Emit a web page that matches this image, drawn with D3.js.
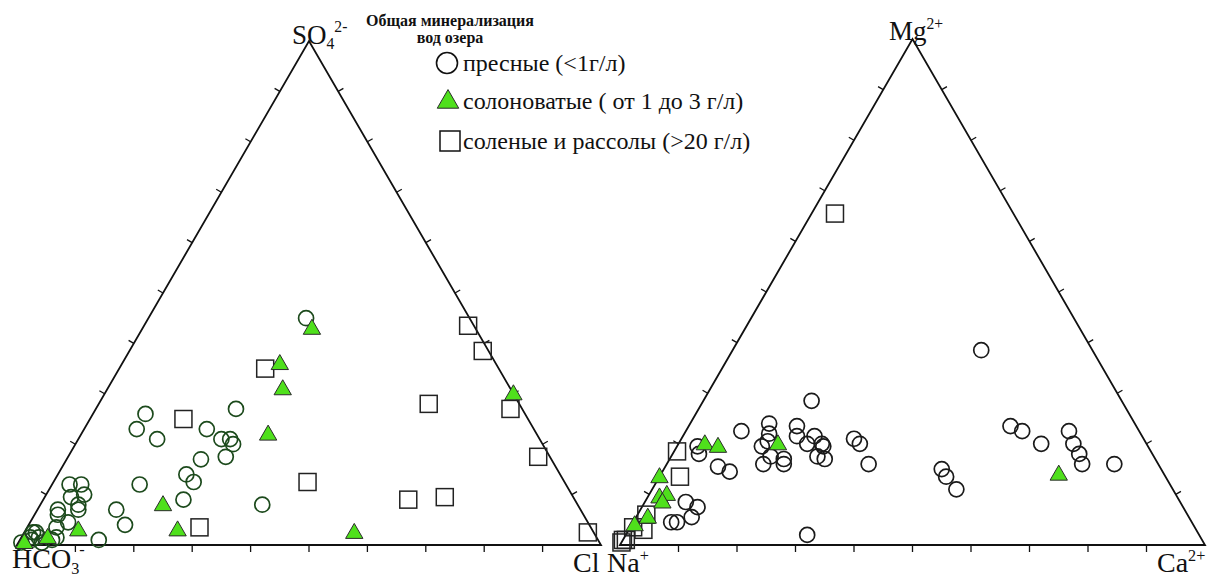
<!DOCTYPE html>
<html>
<head>
<meta charset="utf-8">
<script src="https://cdn.jsdelivr.net/npm/d3@7"></script>
<style>
  body { margin: 0; background: #fff; }
  text { font-family: "Liberation Serif", "DejaVu Serif", serif; fill: #111; }
</style>
</head>
<body>
<script>
//Variables
    const width = 1207;
    const height = 578;

//Data : anions [SO4 %, Cl %] (HCO3 = remainder)
    const anionFresh = [
        [45, 27], [26, 9], [23, 9], [21, 13.5], [27, 24], [23, 21], [21, 24.5], [21, 26],
        [20, 27], [17.5, 27], [17, 23], [14, 22], [12.5, 24], [12, 15], [9, 24], [7, 13.5],
        [4, 16.5], [1, 13.5], [8, 38], [12, 3], [12, 5], [9.5, 4.5], [10, 6.5], [8, 6.5],
        [7, 7], [7, 3.5], [6, 4], [4.5, 6.5], [3.5, 5], [1.5, 6], [1, 5.5], [2.5, 1.5],
        [2.5, 2], [1.5, 1.5], [1, 2], [0.5, 0.5], [1.5, 3], [0.5, 4]
    ];
    const anionBrackish = [
        [43, 29], [36, 27], [31, 30], [22, 32], [8, 21], [3, 26], [3, 9], [1.5, 4.5],
        [0.5, 1], [2.5, 56.5], [30, 70]
    ];
    const anionSaline = [
        [25, 16], [3.5, 29.5], [35, 25], [12.5, 43.5], [9, 62.5], [9.5, 68.5], [28, 56.5],
        [43.5, 55.5], [38.5, 60.5], [27, 71], [17.5, 80.5], [2.5, 96.5]
    ];

//Data : cations [Mg %, Ca %] (Na = remainder)
    const cationFresh = [
        [38.5, 42.5], [28.5, 18.5], [22.5, 9.5], [24, 13.5], [22, 14.5], [19.5, 14.5], [20.5, 15],
        [17.5, 17], [16, 16.5], [17, 19.5], [16, 20], [23.5, 18.5], [21.5, 19.5], [20, 22],
        [21.5, 22.5], [20, 24.5], [19.5, 25], [17.5, 25], [17, 26.5], [21, 29.5], [20, 31],
        [16, 34.5], [19.5, 3.5], [18, 4.5], [15.5, 9], [14.5, 11.5], [8.5, 7], [7.5, 9.5],
        [5.5, 9.5], [4.5, 6.5], [4.5, 7.5], [2, 31], [23.5, 55], [22.5, 57.5], [20, 62],
        [22.5, 65.5], [20, 67.5], [18, 69.5], [16, 71], [16, 76.5], [15, 47.5], [13.5, 49], [11, 52]
    ];
    const cationBrackish = [
        [20, 4.5], [19.5, 7], [20, 17], [13.5, 0], [9.5, 2], [10, 3], [8.5, 3], [5.5, 2],
        [4, 0.5], [14, 68]
    ];
    const cationSaline = [
        [65.5, 4], [18.5, 0.5], [13.5, 3.5], [6, 1.5], [3, 2.5], [3.5, 0.5], [1, 0], [1, 0.5], [0.5, 0]
    ];

    const legendTitle = ["Общая минерализация", "вод озера"];
    const legendLabels = ["пресные (<1г/л)", "солоноватые ( от 1 до 3 г/л)", "соленые и рассолы (>20 г/л)"];
    const ticks = d3.range(10, 100, 10);

//Svg creation
    const svg = d3.select("body")
                    .append("svg")
                    .attr("width", width)
                    .attr("height", height)
                    .style("background-color", "white");

    const green = "#4fe01c";

//Draw one ternary diagram
    function ternary(xr, yr, fresh, brackish, saline, freshColor) {
        const x = d3.scaleLinear().domain([0, 100]).range(xr);
        const y = d3.scaleLinear().domain([0, 100]).range(yr);
        // p = [top %, right %]
        const px = p => x(p[1] + p[0] / 2);
        const py = p => y(p[0]);

        const g = svg.append("g");
        g.append("path")
            .attr("d", `M${px([0, 0])},${py([0, 0])}L${px([100, 0])},${py([100, 0])}L${px([0, 100])},${py([0, 100])}Z`)
            .attr("fill", "none")
            .attr("stroke", "#111")
            .attr("stroke-width", 1.8);

        // base ticks
        g.selectAll(".tb").data(ticks).join("line")
            .attr("x1", d => px([0, d])).attr("x2", d => px([0, d]))
            .attr("y1", py([0, 0])).attr("y2", py([0, 0]) + 7)
            .attr("stroke", "#111").attr("stroke-width", 1.3);
        // left side ticks
        g.selectAll(".tl").data(ticks).join("line")
            .attr("x1", d => px([d, 0])).attr("y1", d => py([d, 0]))
            .attr("x2", d => px([d, 0]) - 6 * Math.cos(Math.PI / 6))
            .attr("y2", d => py([d, 0]) - 6 * Math.sin(Math.PI / 6))
            .attr("stroke", "#111").attr("stroke-width", 1.3);
        // right side ticks
        g.selectAll(".tr").data(ticks).join("line")
            .attr("x1", d => px([d, 100 - d])).attr("y1", d => py([d, 100 - d]))
            .attr("x2", d => px([d, 100 - d]) + 6 * Math.cos(Math.PI / 6))
            .attr("y2", d => py([d, 100 - d]) - 6 * Math.sin(Math.PI / 6))
            .attr("stroke", "#111").attr("stroke-width", 1.3);

        g.selectAll("circle").data(fresh).join("circle")
            .attr("cx", px).attr("cy", py).attr("r", 7.5)
            .attr("fill", "none").attr("stroke", freshColor).attr("stroke-width", 1.7);

        g.selectAll(".sq").data(saline).join("rect")
            .attr("x", d => px(d) - 8.5).attr("y", d => py(d) - 8.5)
            .attr("width", 17).attr("height", 17)
            .attr("fill", "none").attr("stroke", "#222").attr("stroke-width", 1.5);

        g.selectAll(".tri").data(brackish).join("path")
            .attr("d", d3.symbol().type(d3.symbolTriangle).size(130))
            .attr("transform", d => `translate(${px(d)},${py(d) + 1})`)
            .attr("fill", green).attr("stroke", "#2b2b2b").attr("stroke-width", 1);
    }

    ternary([17, 601], [545, 41], anionFresh, anionBrackish, anionSaline, "#1c4a1c");
    ternary([620, 1205], [545, 39], cationFresh, cationBrackish, cationSaline, "#1a1a1a");

//Vertex labels
    function label(x, y, base, sub, sup, size) {
        const t = svg.append("text").attr("x", x).attr("y", y).style("font-size", size + "px");
        t.append("tspan").text(base);
        if (sub) t.append("tspan").attr("dy", size * 0.2).style("font-size", (size * 0.58) + "px").text(sub);
        if (sup) t.append("tspan").attr("dy", sub ? -size * 0.66 : -size * 0.4).style("font-size", (size * 0.58) + "px").text(sup);
    }
    label(292, 44, "SO", "4", "2-", 27);
    label(12, 568, "HCO", "3", "-", 28);
    label(573, 572, "Cl", null, null, 28);
    label(607, 572, "Na", null, "+", 28);
    label(889, 40, "Mg", null, "2+", 27);
    label(1157, 572, "Ca", null, "2+", 28);

//Legend
    svg.selectAll(".ltitle").data(legendTitle).join("text")
        .attr("x", 450).attr("y", (d, i) => 26 + i * 17).attr("text-anchor", "middle")
        .style("font-size", "16px").style("font-weight", "bold").text(d => d);

    const legendY = [63, 101, 141];
    svg.append("circle").attr("cx", 447).attr("cy", legendY[0]).attr("r", 10.5)
        .attr("fill", "none").attr("stroke", "#111").attr("stroke-width", 1.6);
    svg.append("path")
        .attr("d", d3.symbol().type(d3.symbolTriangle).size(200))
        .attr("transform", `translate(448,${legendY[1] + 1})`)
        .attr("fill", green).attr("stroke", "#2b2b2b").attr("stroke-width", 1);
    svg.append("rect").attr("x", 440).attr("y", legendY[2] - 10).attr("width", 20).attr("height", 20)
        .attr("fill", "none").attr("stroke", "#111").attr("stroke-width", 1.5);

    svg.selectAll(".leg").data(legendLabels).join("text")
        .attr("x", 463).attr("y", (d, i) => legendY[i] + 8)
        .style("font-size", "24px")
        .text(d => d);
</script>
</body>
</html>
